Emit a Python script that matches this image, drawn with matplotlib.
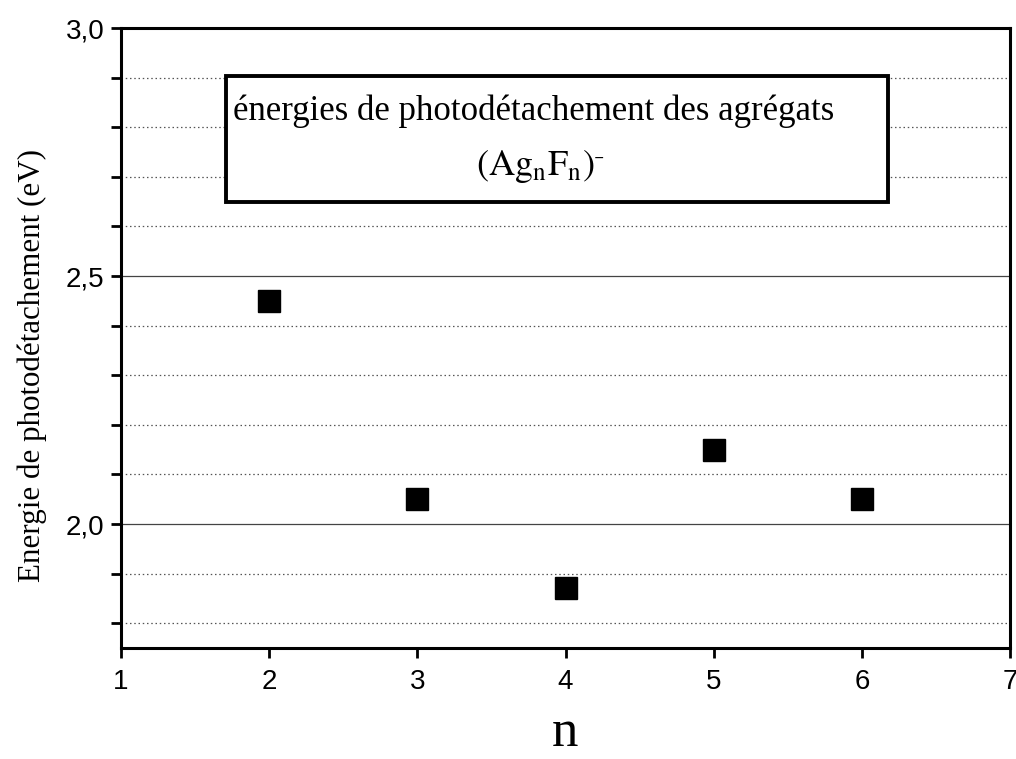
import matplotlib
matplotlib.use("Agg")
import matplotlib.pyplot as plt
from matplotlib.patches import Rectangle
from matplotlib.ticker import FuncFormatter, FixedLocator

n_values = [2, 3, 4, 5, 6]
energies = [2.45, 2.05, 1.87, 2.15, 2.05]
x_ticks = [1, 2, 3, 4, 5, 6, 7]
y_major = [2.0, 2.5, 3.0]
y_minor = [1.8, 1.9, 2.1, 2.2, 2.3, 2.4, 2.6, 2.7, 2.8, 2.9]

plt.rcParams['mathtext.fontset'] = 'stix'

fig = plt.figure(figsize=(10.16, 7.59), dpi=100)
ax = fig.add_axes([121/1016, 1-648/759, 889/1016, 620/759])

ax.set_xlim(1, 7)
ax.set_ylim(1.75, 3.0)

ax.xaxis.set_major_locator(FixedLocator(x_ticks))
ax.yaxis.set_major_locator(FixedLocator(y_major))
ax.yaxis.set_minor_locator(FixedLocator(y_minor))
ax.yaxis.set_major_formatter(FuncFormatter(lambda v, p: f"{v:.1f}".replace('.', ',')))
ax.xaxis.set_major_formatter(FuncFormatter(lambda v, p: f"{int(v)}"))

ax.grid(True, which='major', axis='y', color='#444444', linewidth=0.9, linestyle='-')
ax.grid(True, which='minor', axis='y', color='#555555', linewidth=0.9, linestyle=(0, (1.2, 2.2)))
ax.set_axisbelow(True)

for s in ax.spines.values():
    s.set_linewidth(2.2)
ax.tick_params(axis='both', which='both', direction='out', length=7, width=2.0,
               labelsize=20, colors='black')
for lbl in ax.get_xticklabels() + ax.get_yticklabels():
    lbl.set_family('Liberation Sans')
ax.tick_params(axis='x', pad=8)
ax.tick_params(axis='y', pad=5)

ax.plot(n_values, energies, linestyle='none', marker='s', markersize=15.5,
        color='black', zorder=5)

ax.add_patch(Rectangle((0.118, 0.719), 0.745, 0.2035, transform=ax.transAxes,
                       fill=True, facecolor='white', edgecolor='black', linewidth=2.8, zorder=6))
ax.text(0.126, 0.865, "énergies de photodétachement des agrégats", transform=ax.transAxes,
        family='Liberation Serif', fontsize=25, ha='left', va='center', zorder=7)
ax.text(0.471, 0.776, r"$\mathrm{(Ag_nF_n)^{\bar{\ }}}$", transform=ax.transAxes,
        fontsize=26, ha='center', va='center', zorder=7)

fig.text(32/1016, 1-365/759, "Energie de photodétachement (eV)", rotation=90,
         family='Liberation Serif', fontsize=22.3, ha='center', va='center')
fig.text(565/1016, 2/759, "n", family='Liberation Serif', fontsize=38,
         ha='center', va='bottom')

fig.savefig("out.png", dpi=100)
